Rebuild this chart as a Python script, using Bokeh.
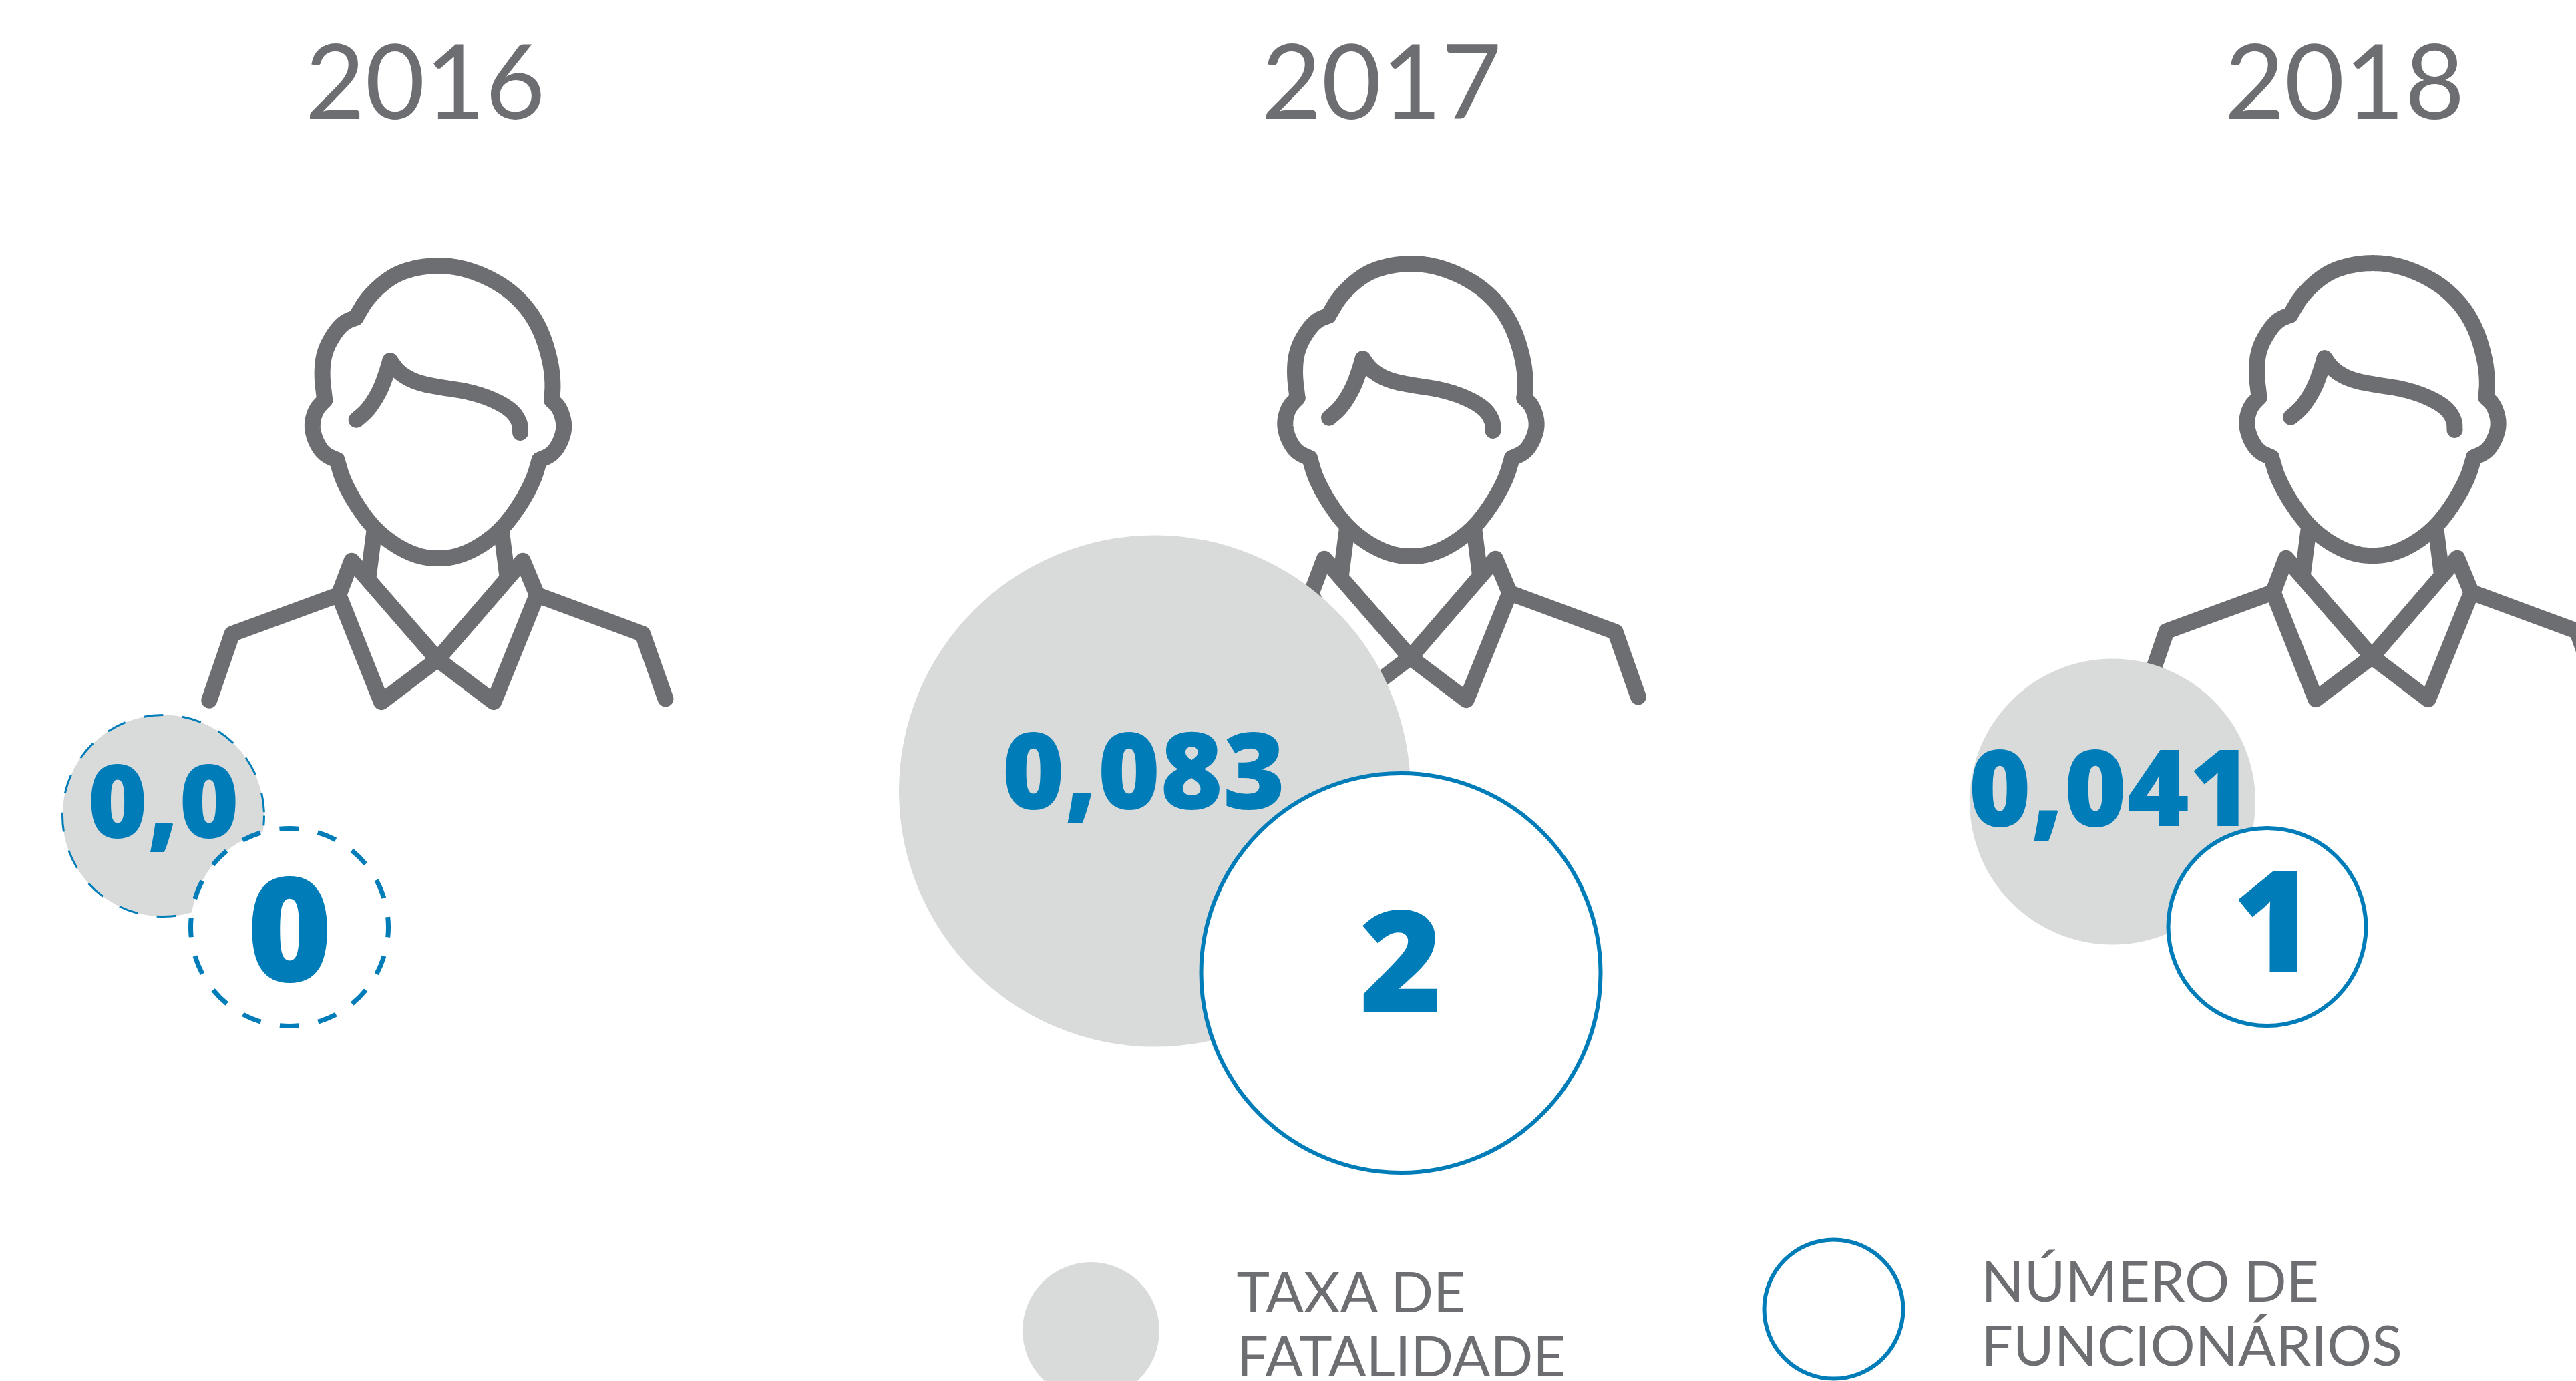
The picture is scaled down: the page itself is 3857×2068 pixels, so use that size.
from bokeh.plotting import figure
from bokeh.models import Range1d
from bokeh.core.properties import value
from bokeh.embed import file_html
from bokeh.resources import INLINE

# ---- data
years = ["2016", "2017", "2018"]
fatality_rate = [0.0, 0.083, 0.041]
fatality_labels = ["0,0", "0,083", "0,041"]
employees = [0, 2, 1]
employee_labels = ["0", "2", "1"]
legend_lines_rate = ["TAXA DE", "FATALIDADE"]
legend_lines_staff = ["NÚMERO DE", "FUNCIONÁRIOS"]

# ---- layout (in reference pixels)
W, H = 3857, 2068
title_x = [636, 2068, 3510]
title_y = 121
icon_x = [654.6, 2111, 3551]
icon_y = [987, 984, 983]
rate_x = [244, 1728.5, 3162.5]
rate_y = [1221, 1184, 1200]
rate_r = [151, 383, 214]
staff_x = [433, 2097, 3394]
staff_y = [1388, 1456.5, 1387.5]
staff_r = [148, 299, 148]
rate_text_x = [244, 1712, 3159]
rate_text_y = [1199, 1153, 1179]
rate_text_size = ["153px", "160px", "160px"]
staff_text_x = [433, 2097, 3404]
staff_text_y = [1391, 1439, 1380]
staff_text_size = ["218px", "212px", "212px"]

BLUE = "#007db8"
GREY = "#6d6e71"
LIGHT = "#d9dbda"

# ---- person icon outline (zoomed-crop coordinates, cross of the collar is the origin)
OX, OY, SX, SY = 793, 1332, 1.96, 2.0907
crown = [(553,262),(590,195),(660,130),(730,105),(795,98),(860,105),(930,130),(1000,172),(1060,235),(1100,310),(1125,400),(1132,470),(1128,520)]
ear_r = [(1128,520),(1152,545),(1167,600),(1155,650),(1130,690),(1092,708)]
jaw = [(1092,708),(1075,770),(1040,840),(990,915),(930,970),(860,1008),(795,1018),(730,1008),(660,970),(600,915),(550,840),(515,770),(498,708)]
ear_l = [(498,708),(460,690),(435,650),(423,600),(435,550),(462,520)]
hair_l = [(462,520),(453,440),(460,370),(490,310),(520,275),(553,262)]
fringe_a = [(555,582),(590,550),(625,490),(645,430),(654,397)]
fringe_b = [(654,397),(680,435),(730,465),(800,480),(880,492),(950,515),(1010,550),(1035,590),(1036,622)]
straight = [
    [(608,925),(590,1075)],
    [(980,925),(998,1075)],
    [(503,1130),(541,1023),(793,1332),(958,1465),(1085,1130),(1043,1023),(793,1332),(628,1465),(503,1130)],
    [(503,1130),(190,1252),(123,1460)],
    [(1085,1130),(1395,1252),(1462,1455)],
]
curved = [crown, ear_r, jaw, ear_l, hair_l, fringe_a, fringe_b]


def smooth(pts, iterations=4):
    """Corner cutting of the outline; the two end points stay where they are."""
    for _ in range(iterations):
        out = [pts[0]]
        for a, b in zip(pts[:-1], pts[1:]):
            out.append((0.75 * a[0] + 0.25 * b[0], 0.75 * a[1] + 0.25 * b[1]))
            out.append((0.25 * a[0] + 0.75 * b[0], 0.25 * a[1] + 0.75 * b[1]))
        out.append(pts[-1])
        pts = out
    return pts


shapes = [smooth(c) for c in curved] + straight
xs, ys = [], []
for cx, cy in zip(icon_x, icon_y):
    for s in shapes:
        xs.append([cx + (a - OX) / SX for a, _ in s])
        ys.append([cy + (b - OY) / SY for _, b in s])

p = figure(width=W, height=H, output_backend="svg", toolbar_location=None,
           x_range=Range1d(0, W), y_range=Range1d(H, 0),
           min_border=0, outline_line_color=None, background_fill_color="white",
           border_fill_color="white")
p.axis.visible = False
p.grid.visible = False

p.multi_line(xs, ys, line_color=GREY, line_width=24, line_cap="round", line_join="round")

# titles
p.text(title_x, [title_y] * 3, text=years, text_font=value("Lato"), text_font_size="155px",
       text_color=GREY, text_align="center", text_baseline="middle")

# fatality-rate circles
for i in range(3):
    dashed = fatality_rate[i] == 0
    p.circle([rate_x[i]], [rate_y[i]], radius=rate_r[i], fill_color=LIGHT,
             line_color=BLUE if dashed else None, line_width=3,
             line_dash="29 29" if dashed else "solid", line_dash_offset=14 if dashed else 0)

# employee circles
for i in range(3):
    dashed = employees[i] == 0
    p.circle([staff_x[i]], [staff_y[i]], radius=staff_r[i], fill_color="white",
             line_color=BLUE, line_width=7 if dashed else 6,
             line_dash="29 29" if dashed else "solid", line_dash_offset=14 if dashed else 0)

# value labels
for i in range(3):
    p.text([rate_text_x[i]], [rate_text_y[i]], text=[fatality_labels[i]],
           text_font=value("Open Sans ExtraBold"), text_font_style="bold",
           text_font_size=rate_text_size[i], text_color=BLUE,
           text_align="center", text_baseline="middle")
    p.text([staff_text_x[i]], [staff_text_y[i]], text=[employee_labels[i]],
           text_font=value("Open Sans ExtraBold"), text_font_style="bold",
           text_font_size=staff_text_size[i], text_color=BLUE,
           text_align="center", text_baseline="middle")

# legend
p.circle([1633], [1992], radius=102.5, fill_color=LIGHT, line_color=None)
p.circle([2745], [1960], radius=104, fill_color="white", line_color=BLUE, line_width=6)
p.text([1851, 1851], [1932, 2028], text=legend_lines_rate, text_font=value("Lato"),
       text_font_size="84px", text_color=GREY, text_align="left", text_baseline="middle")
p.text([2966, 2966], [1916, 2012], text=legend_lines_staff, text_font=value("Lato"),
       text_font_size="84px", text_color=GREY, text_align="left", text_baseline="middle")

open("out.html", "w").write(file_html(p, INLINE))
